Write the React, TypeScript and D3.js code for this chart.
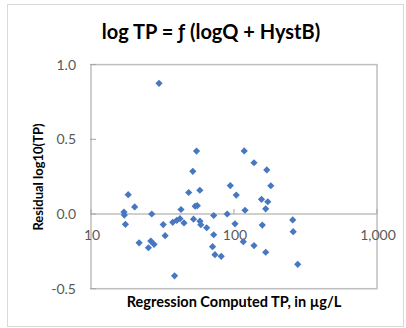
import React, { useEffect, useRef } from "react";
import * as d3 from "d3";

const title = "log TP = ƒ (logQ + HystB)";
const xTitle = "Regression Computed TP, in µg/L";
const yTitle = "Residual log10(TP)";

const xTicks = [10, 100, 1000];
const xTickLabels = ["10", "100", "1,000"];
const yTicks = [-0.5, 0, 0.5, 1.0];
const yTickLabels = ["-0.5", "0.0", "0.5", "1.0"];

const computedTP = [
  29.9, 18.2, 20.2, 17.0, 17.1, 17.4, 21.7, 26.6, 26.2, 27.6, 25.2, 32.0, 33.0, 38.4,
  37.3, 39.8, 41.9, 44.7, 42.6, 48.2, 51.5, 54.7, 57.7, 53.5, 55.4, 52.1, 57.8, 58.6,
  64.4, 72.1, 72.1, 70.8, 73.6, 81.4, 89.6, 94.2, 103.7, 101.6, 116.1, 117.9, 119.4,
  138, 138, 157.7, 155.7, 172.3, 166.6, 169.5, 180.9, 166.6, 257.4, 259.4, 279,
];
const residuals = [
  0.875, 0.129, 0.047, 0.013, -0.007, -0.069, -0.193, 0.0, -0.181, -0.203, -0.226, -0.071,
  -0.145, -0.414, -0.056, -0.042, -0.031, -0.06, 0.03, 0.144, 0.286, 0.421, 0.159, 0.052,
  0.056, -0.035, -0.048, -0.072, -0.092, -0.01, -0.139, -0.219, -0.272, -0.283, 0.0, 0.19,
  0.127, -0.066, -0.185, 0.422, 0.025, 0.343, -0.211, -0.074, 0.098, 0.082, 0.035, 0.295,
  0.189, -0.256, -0.04, -0.118, -0.337,
];

const W = 406;
const H = 328;
const FONT = "Lato, 'Open Sans', sans-serif";

export default function App() {
  const ref = useRef<SVGSVGElement>(null);

  useEffect(() => {
    const svg = d3.select(ref.current);
    svg.selectAll("*").remove();

    const left = 91, right = 377, top = 64.6, bottom = 288.7;
    const x = d3.scaleLog().domain([10, 1000]).range([left, right]);
    const y = d3.scaleLinear().domain([-0.5, 1.0]).range([bottom, top]);

    // outer chart border
    svg.append("rect")
      .attr("x", 7.5).attr("y", 4.5).attr("width", W - 10).attr("height", H - 6)
      .attr("fill", "#fff").attr("stroke", "#d9d9d9").attr("stroke-width", 1);

    // title
    svg.append("text")
      .attr("x", 211).attr("y", 39)
      .attr("text-anchor", "middle")
      .attr("font-family", FONT).attr("font-weight", "bold")
      .attr("font-size", 20).attr("fill", "#000")
      .text(title);

    // plot area border
    svg.append("rect")
      .attr("x", left).attr("y", top).attr("width", right - left).attr("height", bottom - top)
      .attr("fill", "none").attr("stroke", "#bfbfbf").attr("stroke-width", 1.5);

    // zero line (x axis)
    svg.append("line")
      .attr("x1", left).attr("x2", right).attr("y1", y(0)).attr("y2", y(0))
      .attr("stroke", "#bfbfbf").attr("stroke-width", 1.5);

    // y ticks
    yTicks.forEach((t, i) => {
      svg.append("line")
        .attr("x1", left - 1).attr("x2", left + 5).attr("y1", y(t)).attr("y2", y(t))
        .attr("stroke", "#a6a6a6").attr("stroke-width", 1);
      svg.append("text")
        .attr("x", 76).attr("y", y(t)).attr("dy", "0.35em")
        .attr("text-anchor", "end")
        .attr("font-family", FONT).attr("font-size", 14).attr("fill", "#595959")
        .text(yTickLabels[i]);
    });

    // x ticks
    xTicks.forEach((t, i) => {
      svg.append("line")
        .attr("x1", x(t)).attr("x2", x(t)).attr("y1", y(0)).attr("y2", y(0) - 5)
        .attr("stroke", "#a6a6a6").attr("stroke-width", 1);
      svg.append("text")
        .attr("x", x(t) + 1).attr("y", y(0) + 21)
        .attr("dy", "0.35em")
        .attr("text-anchor", "middle")
        .attr("font-family", FONT).attr("font-size", 14).attr("fill", "#595959")
        .text(xTickLabels[i]);
    });

    // points
    const sym = d3.symbol().type(d3.symbolSquare).size(26);
    svg.append("g").selectAll("path")
      .data(computedTP.map((v, i) => [v, residuals[i]]))
      .join("path")
      .attr("d", sym as any)
      .attr("transform", (d) => `translate(${x(d[0])},${y(d[1])}) rotate(45)`)
      .attr("fill", "#4677c0");

    // axis titles
    svg.append("text")
      .attr("x", 234).attr("y", 307)
      .attr("text-anchor", "middle")
      .attr("font-family", FONT).attr("font-weight", "bold")
      .attr("font-size", 14.5).attr("fill", "#000")
      .text(xTitle);

    svg.append("text")
      .attr("transform", `translate(43,177) rotate(-90)`)
      .attr("text-anchor", "middle")
      .attr("font-family", FONT).attr("font-weight", "bold")
      .attr("font-size", 13).attr("fill", "#000")
      .text(yTitle);
  }, []);

  return (
    <svg
      ref={ref}
      width={W}
      height={H}
      style={{ position: "absolute", left: 0, top: 0, background: "#fff" }}
    />
  );
}
